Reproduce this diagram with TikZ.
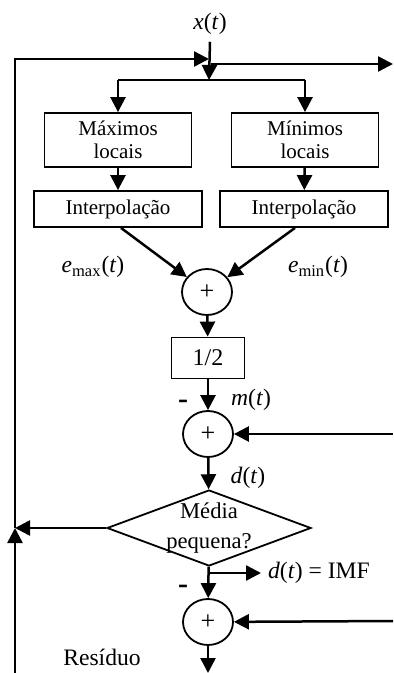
\documentclass[tikz,border=0pt]{standalone}
\usepackage{fontspec}
\setmainfont{Liberation Serif}
\usetikzlibrary{arrows.meta,shapes.geometric}

\begin{document}
\begin{tikzpicture}[x=0.5pt,y=-0.5pt,font=\fontsize{10.5}{11.5}\selectfont,
    box/.style={draw,line width=0.9pt,align=center,inner sep=0pt},
    somador/.style={draw,ellipse,line width=0.9pt,minimum width=25pt,minimum height=23pt,inner sep=0pt,
        font=\fontsize{13}{13}\selectfont},
    seta/.style={-{Triangle[length=7.5pt,width=7.5pt]},line width=1.25pt},
    rotulo/.style={font=\fontsize{11.8}{13}\selectfont},
    menos/.style={font=\fontsize{15}{15}\bfseries\selectfont}]
    \useasboundingbox (0,0) rectangle (393,673);
    % entrada e realimentacao do topo
    \node[rotulo] (xt) at (210,24) {\textit{x}(\textit{t})};
    \coordinate (jin) at (209,59);
    \coordinate (jout) at (211,64);
    \coordinate (split) at (209,80);
    \coordinate (saida) at (393,64);
    \coordinate (fbtop) at (15,59);
    \coordinate (fbl) at (15,528);
    \coordinate (res) at (15,673);
    % blocos
    \node[box,minimum width=73.5pt,minimum height=27pt] (maxl) at (118,140) {Máximos\\locais};
    \node[box,minimum width=73.5pt,minimum height=27pt] (minl) at (305,140) {Mínimos\\locais};
    \node[box,minimum width=84pt,minimum height=18pt] (intl) at (118,209) {Interpolação};
    \node[box,minimum width=84pt,minimum height=18pt] (intr) at (304,209) {Interpolação};
    \node[somador] (sum1) at (207,292) {+};
    \node[box,minimum width=36.5pt,minimum height=20.5pt,font=\fontsize{12}{12}\selectfont] (half) at (208,358) {1/2};
    \node[somador] (sum2) at (208,434) {+};
    \node[draw,diamond,line width=0.9pt,minimum width=102pt,minimum height=38pt,inner sep=0pt,
        label={[align=center,font=\fontsize{11.3}{15}\selectfont]center:Média\\pequena?}] (dec) at (209,528) {};
    \node[somador] (sum3) at (208,622) {+};
    \coordinate (in2) at (393,434);
    \coordinate (in3) at (393,621);
    \coordinate (imfj) at (209,573);
    \coordinate (outb) at (208,673);
    % rotulos
    \node[rotulo] (emax) at (93,267) {\textit{e}\textsubscript{max}(\textit{t})};
    \node[rotulo] (emin) at (318,267) {\textit{e}\textsubscript{min}(\textit{t})};
    \node[rotulo] (mt) at (251,400) {\textit{m}(\textit{t})};
    \node[rotulo] (dt) at (248,478) {\textit{d}(\textit{t})};
    \node[rotulo,anchor=west] (imf) at (261,573) {\textit{d}(\textit{t}) = IMF};
    \node[menos] (m1) at (183,404) {-};
    \node[menos] (m2) at (183,589) {-};
    \node[rotulo] (resid) at (102,657) {Resíduo};
    % conexoes
    \draw[seta] (xt.south) -- (split);                      % x(t) para baixo
    \draw[seta] (jout) -- (saida);                          % saida a direita
    \draw[line width=1.25pt] (maxl.north |- split) -- (minl.north |- split);
    \draw[seta] (maxl.north |- split) -- (maxl.north);
    \draw[seta] (minl.north |- split) -- (minl.north);
    \draw[seta] (maxl) -- (intl);
    \draw[seta] (minl) -- (intr);
    \draw[seta] ([xshift=1.5pt]intl.south) -- (sum1);
    \draw[seta] ([xshift=-4.5pt]intr.south) -- (sum1);
    \draw[seta] (sum1) -- (half);
    \draw[seta] (half) -- (sum2);
    \draw[seta] (in2) -- (sum2);
    \draw[seta] (sum2) -- (dec);                            % d(t)
    \draw[seta] (dec) -- (fbl);
    \draw[seta] (fbl) -- (fbtop) -- (jin);                  % volta ao topo
    \draw[seta] (res) -- (fbl);                             % residuo
    \draw[seta] (dec) -- (sum3);
    \draw[seta] (imfj) -- (imf);
    \draw[seta] (in3) -- (sum3);
    \draw[seta] (sum3) -- (outb);
\end{tikzpicture}
\end{document}
